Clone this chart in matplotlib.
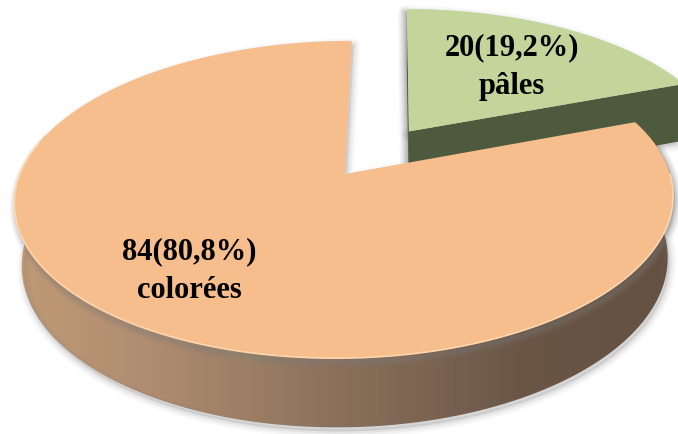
import numpy as np
import matplotlib.pyplot as plt
from matplotlib.patches import Polygon
from matplotlib.colors import LinearSegmentedColormap

# slices in drawing order (first one starts at 12 o'clock, clockwise)
labels = ['pâles', 'colorées']
counts = [20, 84]
top_colors = ['#C3D59B', '#F6BE8C']
side_colors = ['#4E5A3E', '#8B6A4F']
explode = [0.35, 0.0]
label_pos = [(512, 67), (189, 271)]

# view of the tilted disc (pixel space)
S = 325.0
CX, CY = 345.0, 174.0
ELEV = np.radians(28.4)
DIST = 5.47
CAM_X = 0.15
H = 0.22

W, HT = 678, 434


def project(x, y, z):
    x = np.asarray(x, float)
    y = np.asarray(y, float)
    z = np.asarray(z, float)
    sy = y * np.sin(ELEV) + z * np.cos(ELEV)
    depth = y * np.cos(ELEV) - z * np.sin(ELEV)
    f = DIST / (DIST + depth)
    X = (x - CAM_X) * f + CAM_X
    return np.column_stack([CX + S * X, CY - S * sy * f])


def arc(a1, a2, ox, oy, z, n=200):
    t = np.radians(np.linspace(a1, a2, n))
    return project(ox + np.cos(t), oy + np.sin(t), np.full(n, z))


cam = np.array([CAM_X, -DIST * np.cos(ELEV), DIST * np.sin(ELEV)])

fig = plt.figure(figsize=(W / 100, HT / 100), dpi=100)
ax = fig.add_axes([0, 0, 1, 1])
ax.set_xlim(0, W)
ax.set_ylim(HT, 0)
ax.axis('off')

total = float(sum(counts))
start = 90.0
wedges = []
for i, c in enumerate(counts):
    a1 = start
    a2 = start - 360.0 * c / total
    mid = np.radians((a1 + a2) / 2)
    ox, oy = explode[i] * np.cos(mid), explode[i] * np.sin(mid)
    wedges.append((a1, a2, ox, oy))
    start = a2


def shapes(i):
    a1, a2, ox, oy = wedges[i]
    apex_t = project([ox], [oy], [0])
    top = np.vstack([apex_t, arc(a2, a1, ox, oy, 0)])
    # outer wall, only the part facing the viewer
    lo, hi = max(a2, -195.0), min(a1, 15.0)
    if a2 > 15:
        lo, hi = 1, 0
    wall = None
    if hi > lo:
        wall = np.vstack([arc(lo, hi, ox, oy, 0), arc(hi, lo, ox, oy, -H)])
    faces = []
    for a, nang in [(a2, a2 - 90), (a1, a1 + 90)]:
        n = np.array([np.cos(np.radians(nang)), np.sin(np.radians(nang)), 0])
        p = np.array([ox, oy, 0])
        if np.dot(n, cam - p) > 0.03:
            r = np.radians(a)
            xs = [ox, ox + np.cos(r), ox + np.cos(r), ox]
            ys = [oy, oy + np.sin(r), oy + np.sin(r), oy]
            zs = [0, 0, -H, -H]
            faces.append(project(xs, ys, zs))
    return top, wall, faces


def halo(poly, dx=2, dy=4):
    p = poly + np.array([dx, dy])
    for lw, al in [(9, 0.05), (6, 0.07), (3, 0.1)]:
        ax.add_patch(Polygon(p, closed=True, facecolor='#7F7F7F', edgecolor='#7F7F7F',
                             lw=lw, alpha=al, joinstyle='round'))


# side wall shading, left to right across the figure
stops = [(0, '#D6A576'), (20, '#D3A274'), (130, '#C19570'), (340, '#8F6E53'),
         (520, '#674D39'), (W, '#5F4733')]
wall_cmap = LinearSegmentedColormap.from_list('wall', [(p / W, c) for p, c in stops])
gx = np.linspace(0, 1, 678)[None, :]

# orange shadow first, then the exploded slice behind it, then the big slice
top1, wall1, faces1 = shapes(1)
halo(top1)
halo(wall1)

top0, wall0, faces0 = shapes(0)
halo(top0, -2, 3)
for f in faces0:
    halo(f, -2, 3)
for f in faces0:
    ax.add_patch(Polygon(f, closed=True, facecolor=side_colors[0], edgecolor='none'))
ax.add_patch(Polygon(top0, closed=True, facecolor=top_colors[0], edgecolor='none'))

wp = Polygon(wall1, closed=True, facecolor='none', edgecolor='none')
ax.add_patch(wp)
im = ax.imshow(gx, cmap=wall_cmap, vmin=0, vmax=1, extent=(0, W, HT, 0),
               aspect='auto', interpolation='bilinear')
im.set_clip_path(wp)
ax.add_patch(Polygon(top1, closed=True, facecolor=top_colors[1], edgecolor='none'))
rim = arc(-192, 0, 0, 0, 0)
ax.plot(rim[:, 0], rim[:, 1], color='#FDD6AE', lw=1.2, solid_capstyle='round')

for i, c in enumerate(counts):
    pct = 100.0 * c / total
    txt = f'{c}({pct:.1f}%)'.replace('.', ',') + '\n' + labels[i]
    ax.text(label_pos[i][0], label_pos[i][1], txt, ha='center', va='center',
            fontsize=22, fontweight='bold', family='Liberation Serif',
            linespacing=1.45, color='black')

fig.savefig('out.png', dpi=100)
